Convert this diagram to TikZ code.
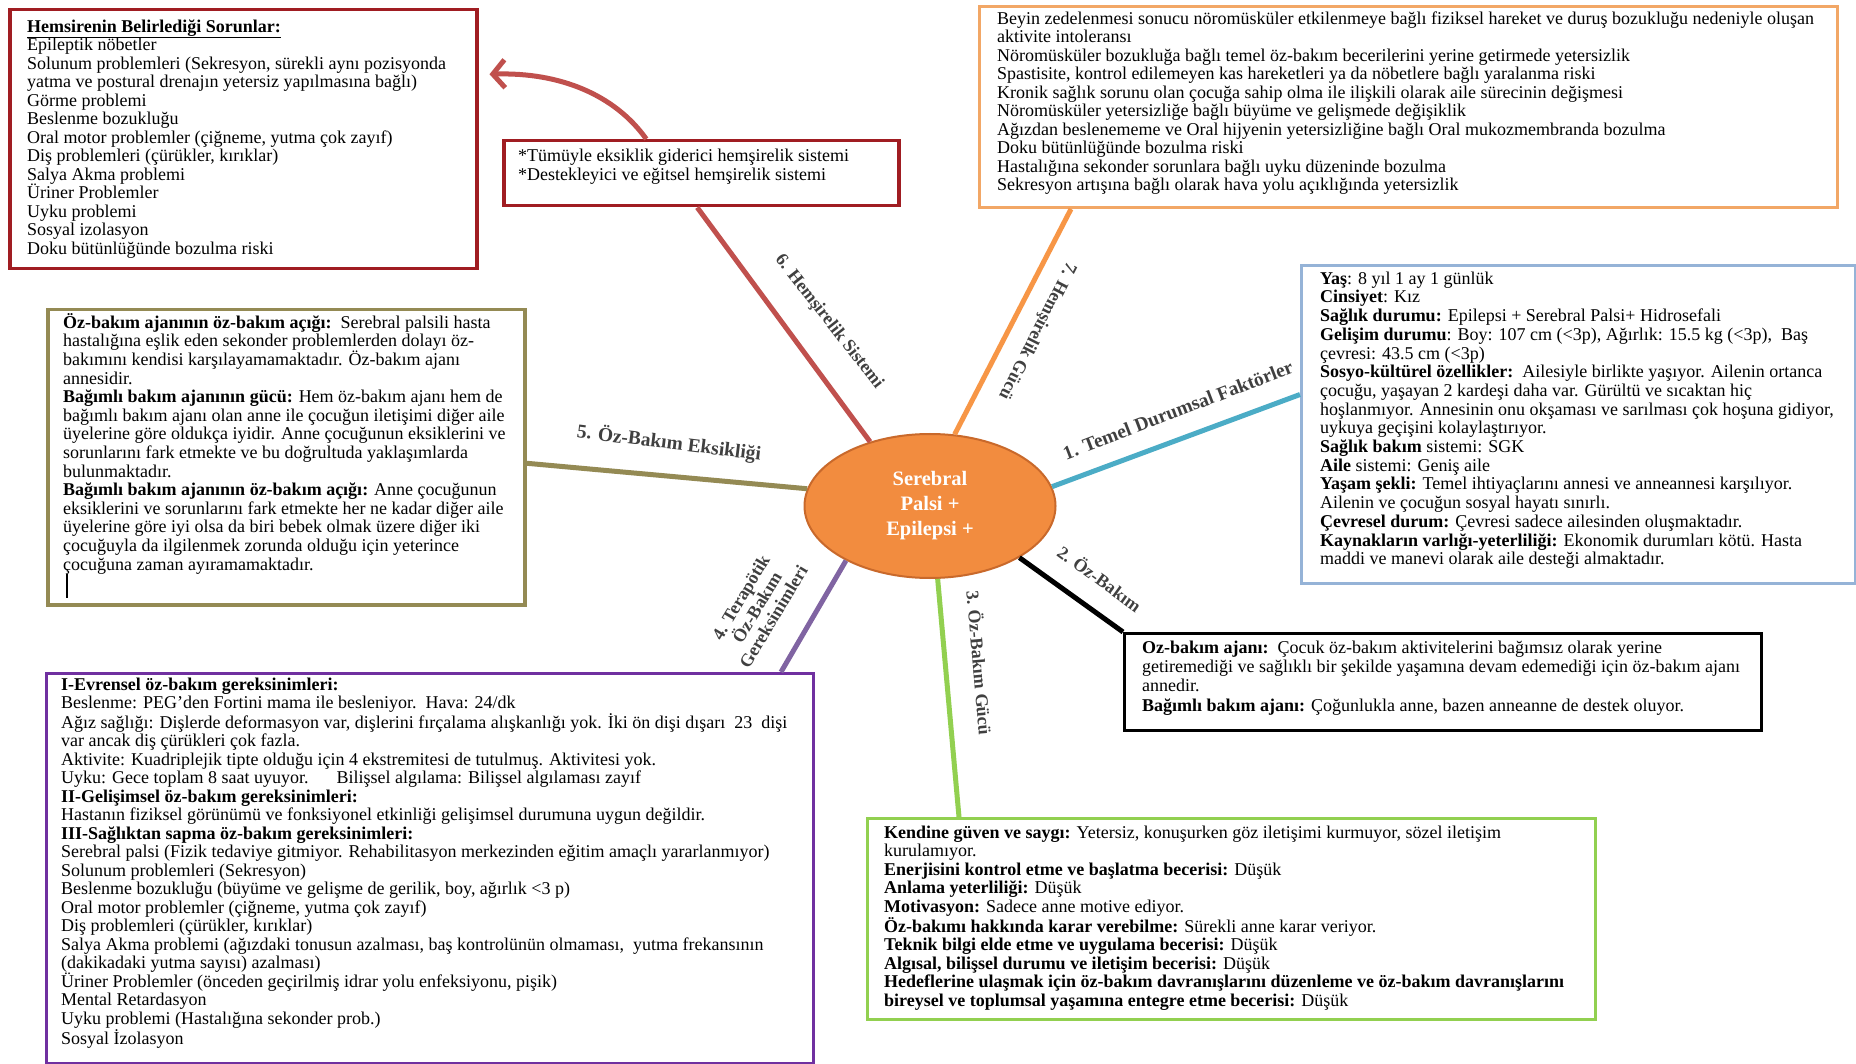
\documentclass[tikz,border=0pt]{standalone}
\usepackage{fontspec}
\setmainfont{Liberation Serif}
\usetikzlibrary{shapes.geometric,arrows.meta}
\definecolor{probred}{HTML}{A01D22}
\definecolor{sysred}{HTML}{C0504D}
\definecolor{nurseorange}{HTML}{F79646}
\definecolor{orangeframe}{HTML}{F2A766}
\definecolor{factblue}{HTML}{4BACC6}
\definecolor{blueframe}{HTML}{95B3D7}
\definecolor{deficitolive}{HTML}{948A54}
\definecolor{reqpurple}{HTML}{7030A0}
\definecolor{linepurple}{HTML}{8064A2}
\definecolor{powergreen}{HTML}{92D050}
\definecolor{palsyfill}{HTML}{F28C3F}
\definecolor{palsyedge}{HTML}{C9692B}
\definecolor{tagc}{HTML}{404040}
\newcommand{\firstln}{\rule{0pt}{15pt}}
\begin{document}
\begin{tikzpicture}[x=1pt,y=-1pt,>=stealth,
  frame/.style={draw=#1,line width=3.5pt,fill=white,inner sep=0pt,anchor=north west},
  note/.style={align=left,inner sep=0pt,anchor=north west,font=\fontsize{18}{18.5}\selectfont},
  branch/.style={draw=#1,line width=5pt},
  tag/.style={font=\bfseries\fontsize{18}{19}\selectfont,text=tagc}]
  \useasboundingbox[fill=white] (0,0) rectangle (1856,1064);
  % centre
  \node[ellipse,fill=palsyfill,draw=palsyedge,line width=2pt,minimum width=251pt,minimum height=144pt,
    text=white,align=center,font=\bfseries\fontsize{20.5}{25}\selectfont] (palsy) at (930,506) {Serebral\\Palsi +\\Epilepsi +};
  % frames
  \node[frame=probred,minimum width=467pt,minimum height=259pt] (problems) at (8,8) {};
  \node[frame=probred,minimum width=395pt,minimum height=65pt] (system) at (502,139) {};
  \node[frame=orangeframe,line width=3pt,minimum width=858pt,minimum height=201pt] (diag) at (978,5) {};
  \node[frame=blueframe,line width=3pt,minimum width=554pt,minimum height=318pt] (facts) at (1300,264) {};
  \node[frame=deficitolive,minimum width=477pt,minimum height=295pt] (deficit) at (46,308) {};
  \node[frame=reqpurple,line width=3pt,minimum width=767pt,minimum height=390pt] (req) at (45,672) {};
  \node[frame=powergreen,line width=3pt,minimum width=728pt,minimum height=201pt] (power) at (866,817) {};
  \node[frame=black,line width=3pt,minimum width=637pt,minimum height=97pt] (agent) at (1123,632) {};
  % branches
  \draw[branch=factblue] (palsy.9) -- ([yshift=30pt]facts.west);
  \draw[branch=black] (palsy.-30) -- (agent.north west);
  \draw[branch=powergreen] (palsy.-84) -- ([xshift=93pt]power.north west);
  \draw[branch=linepurple] (palsy.-147) -- ([xshift=-34pt]req.north east);
  \draw[branch=deficitolive] (palsy.172) -- ([yshift=-6pt]deficit.east);
  \draw[branch=sysred] (palsy.133) -- ([xshift=-4pt]system.south);
  \draw[branch=nurseorange] (palsy.71) -- ([xshift=93pt]diag.south west);
  \draw[sysred,line width=5pt,-{Straight Barb[length=12pt,width=28pt]}]
    ([xshift=-55pt]system.north) .. controls (615,95) and (560,72) .. ([xshift=11pt,yshift=65pt]problems.east);
  % branch labels
  \node[tag,font=\bfseries\fontsize{19.5}{20}\selectfont,rotate=21] (tag1) at (1178,410) {1. Temel Durumsal Faktörler};
  \node[tag,rotate=-36] (tag2) at (1100,578) {2. Öz-Bakım};
  \node[tag,rotate=-85] (tag3) at (980,663) {3. Öz-Bakım Gücü};
  \node[tag,rotate=59,align=center] (tag4) at (757,607) {4. Terapötik\\Öz-Bakım\\Gereksinimleri};
  \node[tag,font=\bfseries\fontsize{19.5}{20}\selectfont,rotate=-7] (tag5) at (669,443) {5. Öz-Bakım Eksikliği};
  \node[tag,rotate=-52] (tag6) at (829,322) {6. Hemşirelik Sistemi};
  \node[tag,rotate=-117] (tag7) at (1037,331) {7. Hemşirelik Gücü};
  % texts
  \node[note] (problemsText) at (27,17) {\firstln\underline{\textbf{Hemsirenin Belirlediği Sorunlar:}}\\
    Epileptik nöbetler\\
    Solunum problemleri (Sekresyon, sürekli aynı pozisyonda\\
    yatma ve postural drenajın yetersiz yapılmasına bağlı)\\
    Görme problemi\\
    Beslenme bozukluğu\\
    Oral motor problemler (çiğneme, yutma çok zayıf)\\
    Diş problemleri (çürükler, kırıklar)\\
    Salya Akma problemi\\
    Üriner Problemler\\
    Uyku problemi\\
    Sosyal izolasyon\\
    Doku bütünlüğünde bozulma riski};
  \node[note,font=\fontsize{18}{19.5}\selectfont] (systemText) at (518,146) {\firstln*Tümüyle eksiklik giderici hemşirelik sistemi\\
    *Destekleyici ve eğitsel hemşirelik sistemi};
  \node[note] (diagText) at (997,9) {\firstln Beyin zedelenmesi sonucu nöromüsküler etkilenmeye bağlı fiziksel hareket ve duruş bozukluğu nedeniyle oluşan\\
    aktivite intoleransı\\
    Nöromüsküler bozukluğa bağlı temel öz-bakım becerilerini yerine getirmede yetersizlik\\
    Spastisite, kontrol edilemeyen kas hareketleri ya da nöbetlere bağlı yaralanma riski\\
    Kronik sağlık sorunu olan çocuğa sahip olma ile ilişkili olarak aile sürecinin değişmesi\\
    Nöromüsküler yetersizliğe bağlı büyüme ve gelişmede değişiklik\\
    Ağızdan beslenememe ve Oral hijyenin yetersizliğine bağlı Oral mukozmembranda bozulma\\
    Doku bütünlüğünde bozulma riski\\
    Hastalığına sekonder sorunlara bağlı uyku düzeninde bozulma\\
    Sekresyon artışına bağlı olarak hava yolu açıklığında yetersizlik};
  \node[note,font=\fontsize{18}{18.7}\selectfont] (factsText) at (1320,269) {\firstln\textbf{Yaş}: 8 yıl 1 ay 1 günlük\\
    \textbf{Cinsiyet}: Kız\\
    \textbf{Sağlık durumu:} Epilepsi + Serebral Palsi+ Hidrosefali\\
    \textbf{Gelişim durumu}: Boy: 107 cm (<3p), Ağırlık: 15.5 kg (<3p),\ \ Baş\\
    çevresi: 43.5 cm (<3p)\\
    \textbf{Sosyo-kültürel özellikler:}\ \ Ailesiyle birlikte yaşıyor. Ailenin ortanca\\
    çocuğu, yaşayan 2 kardeşi daha var. Gürültü ve sıcaktan hiç\\
    hoşlanmıyor. Annesinin onu okşaması ve sarılması çok hoşuna gidiyor,\\
    uykuya geçişini kolaylaştırıyor.\\
    \textbf{Sağlık bakım} sistemi: SGK\\
    \textbf{Aile} sistemi: Geniş aile\\
    \textbf{Yaşam şekli:} Temel ihtiyaçlarını annesi ve anneannesi karşılıyor.\\
    Ailenin ve çocuğun sosyal hayatı sınırlı.\\
    \textbf{Çevresel durum:} Çevresi sadece ailesinden oluşmaktadır.\\
    \textbf{Kaynakların varlığı-yeterliliği:} Ekonomik durumları kötü. Hasta\\
    maddi ve manevi olarak aile desteği almaktadır.};
  \node[note,font=\fontsize{18}{18.6}\selectfont] (deficitText) at (63,313) {\firstln\textbf{Öz-bakım ajanının öz-bakım açığı:}\ \ Serebral palsili hasta\\
    hastalığına eşlik eden sekonder problemlerden dolayı öz-\\
    bakımını kendisi karşılayamamaktadır. Öz-bakım ajanı\\
    annesidir.\\
    \textbf{Bağımlı bakım ajanının gücü:} Hem öz-bakım ajanı hem de\\
    bağımlı bakım ajanı olan anne ile çocuğun iletişimi diğer aile\\
    üyelerine göre oldukça iyidir. Anne çocuğunun eksiklerini ve\\
    sorunlarını fark etmekte ve bu doğrultuda yaklaşımlarda\\
    bulunmaktadır.\\
    \textbf{Bağımlı bakım ajanının öz-bakım açığı:} Anne çocuğunun\\
    eksiklerini ve sorunlarını fark etmekte her ne kadar diğer aile\\
    üyelerine göre iyi olsa da biri bebek olmak üzere diğer iki\\
    çocuğuyla da ilgilenmek zorunda olduğu için yeterince\\
    çocuğuna zaman ayıramamaktadır.};
  \draw[line width=1.2pt] (deficitText.south west) ++(4,0) -- ++(0,24);
  \node[note] (reqText) at (61,675) {\firstln\textbf{I-Evrensel öz-bakım gereksinimleri:}\\
    Beslenme: PEG'den Fortini mama ile besleniyor.\ \ Hava: 24/dk\\
    Ağız sağlığı: Dişlerde deformasyon var, dişlerini fırçalama alışkanlığı yok. İki ön dişi dışarı\ \ 23\ \ dişi\\
    var ancak diş çürükleri çok fazla.\\
    Aktivite: Kuadriplejik tipte olduğu için 4 ekstremitesi de tutulmuş. Aktivitesi yok.\\
    Uyku: Gece toplam 8 saat uyuyor.\hspace{28pt}Bilişsel algılama: Bilişsel algılaması zayıf\\
    \textbf{II-Gelişimsel öz-bakım gereksinimleri:}\\
    Hastanın fiziksel görünümü ve fonksiyonel etkinliği gelişimsel durumuna uygun değildir.\\
    \textbf{III-Sağlıktan sapma öz-bakım gereksinimleri:}\\
    Serebral palsi (Fizik tedaviye gitmiyor. Rehabilitasyon merkezinden eğitim amaçlı yararlanmıyor)\\
    Solunum problemleri (Sekresyon)\\
    Beslenme bozukluğu (büyüme ve gelişme de gerilik, boy, ağırlık <3 p)\\
    Oral motor problemler (çiğneme, yutma çok zayıf)\\
    Diş problemleri (çürükler, kırıklar)\\
    Salya Akma problemi (ağızdaki tonusun azalması, baş kontrolünün olmaması,\ \ yutma frekansının\\
    (dakikadaki yutma sayısı) azalması)\\
    Üriner Problemler (önceden geçirilmiş idrar yolu enfeksiyonu, pişik)\\
    Mental Retardasyon\\
    Uyku problemi (Hastalığına sekonder prob.)\\
    Sosyal İzolasyon};
  \node[note] (powerText) at (884,823) {\firstln\textbf{Kendine güven ve saygı:} Yetersiz, konuşurken göz iletişimi kurmuyor, sözel iletişim\\
    kurulamıyor.\\
    \textbf{Enerjisini kontrol etme ve başlatma becerisi:} Düşük\\
    \textbf{Anlama yeterliliği:} Düşük\\
    \textbf{Motivasyon:} Sadece anne motive ediyor.\\
    \textbf{Öz-bakımı hakkında karar verebilme:} Sürekli anne karar veriyor.\\
    \textbf{Teknik bilgi elde etme ve uygulama becerisi:} Düşük\\
    \textbf{Algısal, bilişsel durumu ve iletişim becerisi:} Düşük\\
    \textbf{Hedeflerine ulaşmak için öz-bakım davranışlarını düzenleme ve öz-bakım davranışlarını}\\
    \textbf{bireysel ve toplumsal yaşamına entegre etme becerisi:} Düşük};
  \node[note,font=\fontsize{18}{19.3}\selectfont] (agentText) at (1142,638) {\firstln\textbf{Oz-bakım ajanı:}\ \ Çocuk öz-bakım aktivitelerini bağımsız olarak yerine\\
    getiremediği ve sağlıklı bir şekilde yaşamına devam edemediği için öz-bakım ajanı\\
    annedir.\\
    \textbf{Bağımlı bakım ajanı:} Çoğunlukla anne, bazen anneanne de destek oluyor.};
\end{tikzpicture}
\end{document}
